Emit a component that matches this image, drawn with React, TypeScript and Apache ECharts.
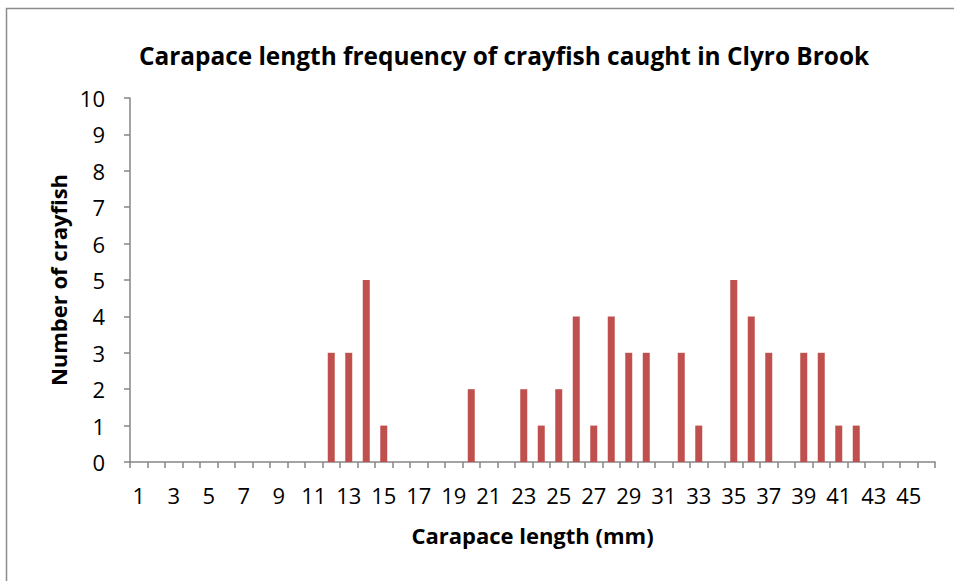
import React, { useEffect, useRef } from "react";
import * as echarts from "echarts";

const categories: string[] = Array.from({ length: 46 }, (_, i) => String(i + 1));
const lengths: number[] = [12, 13, 14, 15, 20, 23, 24, 25, 26, 27, 28, 29, 30, 32, 33, 35, 36, 37, 39, 40, 41, 42];
const counts: number[] = [3, 3, 5, 1, 2, 2, 1, 2, 4, 1, 4, 3, 3, 3, 1, 5, 4, 3, 3, 3, 1, 1];

const FONT = "Open Sans";

export default function App() {
  const ref = useRef<HTMLDivElement>(null);
  useEffect(() => {
    document.body.style.margin = "0";
    const chart = echarts.init(ref.current!, null, { renderer: "svg" });
    const values: (number | null)[] = categories.map((c) => {
      const idx = lengths.indexOf(Number(c));
      return idx >= 0 ? counts[idx] : null;
    });
    chart.setOption({
      animation: false,
      backgroundColor: "#ffffff",
      textStyle: { fontFamily: FONT },
      title: {
        text: "Carapace length frequency of crayfish caught in Clyro Brook",
        left: 499,
        top: 38,
        textAlign: "center",
        textStyle: { fontFamily: FONT, fontSize: 24.4, fontWeight: "bold", color: "#000" },
      },
      graphic: [
        {
          type: "rect",
          shape: { x: 6.5, y: 8.5, width: 1000, height: 1000 },
          style: { fill: "none", stroke: "#8c8c8c", lineWidth: 1.5 },
          silent: true,
        },
      ],
      grid: { left: 130, right: 19, top: 98, bottom: 119, containLabel: false },
      xAxis: {
        type: "category",
        data: categories,
        boundaryGap: true,
        name: "Carapace length (mm)",
        nameLocation: "middle",
        nameGap: 62,
        nameTextStyle: { fontFamily: FONT, fontSize: 22, fontWeight: "bold", color: "#000" },
        axisLine: { lineStyle: { color: "#868686", width: 1.5 } },
        axisTick: { show: true, length: 6, interval: 0, alignWithLabel: false, lineStyle: { color: "#868686", width: 1.5 } },
        axisLabel: { interval: 1, margin: 22, fontFamily: FONT, fontSize: 22, color: "#000" },
        splitLine: { show: false },
      },
      yAxis: {
        type: "value",
        min: 0,
        max: 10,
        interval: 1,
        name: "Number of crayfish",
        nameLocation: "middle",
        nameGap: 58,
        nameRotate: 90,
        nameTextStyle: { fontFamily: FONT, fontSize: 22, fontWeight: "bold", color: "#000" },
        axisLine: { show: true, lineStyle: { color: "#868686", width: 1.5 } },
        axisTick: { show: true, length: 6, inside: false, lineStyle: { color: "#868686", width: 1.5 } },
        axisLabel: { margin: 25, fontFamily: FONT, fontSize: 22, color: "#000" },
        splitLine: { show: false },
      },
      series: [
        {
          type: "bar",
          data: values,
          barWidth: "40%",
          itemStyle: { color: "#C0504D" },
        },
      ],
    });
    return () => chart.dispose();
  }, []);
  return <div ref={ref} style={{ width: 954, height: 581 }} />;
}
